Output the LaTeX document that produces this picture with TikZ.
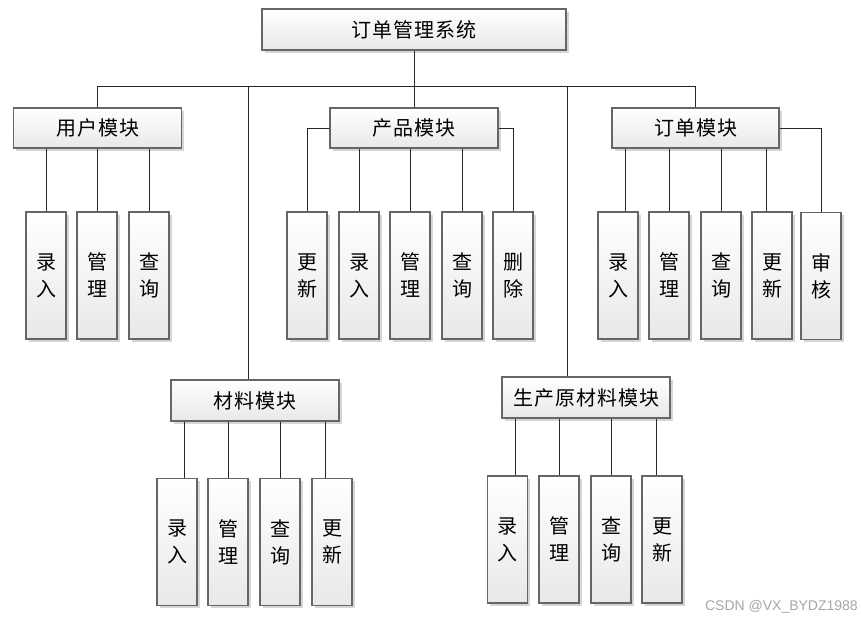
\documentclass[tikz,border=0pt]{standalone}
\usepackage{fontspec}
\newfontfamily\cjk[LetterSpace=5]{Noto Sans CJK SC}
\newfontfamily\wmfont{Liberation Sans}
\usetikzlibrary{shadows}
\begin{document}
\begin{tikzpicture}[x=1pt,y=-1pt,
  box/.style={draw=black!60, line width=1.1pt, top color=white, bottom color=black!9,
    drop shadow={shadow xshift=2.5pt, shadow yshift=-2.5pt, fill=black!20, opacity=0.8},
    font=\cjk\fontsize{20}{27}\selectfont, inner sep=0pt, align=center},
  modbox/.style={box, minimum width=168pt, minimum height=40pt},
  kid/.style={box, minimum width=40pt, minimum height=127pt},
  link/.style={draw=black!85, line width=0.9pt}]
\useasboundingbox (0,0) rectangle (861,622);

\node[box, minimum width=304pt, minimum height=41pt] (top) at (414,29.5) {订单管理系统};
\node[modbox] (user) at (97.5,128) {用户模块};
\node[modbox] (prod) at (414,128) {产品模块};
\node[modbox, minimum width=167pt] (order) at (695.5,128) {订单模块};
\node[modbox, minimum height=41pt] (mat) at (255,400.5) {材料模块};
\node[modbox, minimum height=41pt] (raw) at (586,397.5) {生产原材料模块};

\coordinate (bus) at (414,86);

% user children
\node[kid] (u1) at (46,275.5) {录\\入};
\node[kid] (u2) at (97,275.5) {管\\理};
\node[kid] (u3) at (149,275.5) {查\\询};
% product children
\node[kid] (p1) at (307,275.5) {更\\新};
\node[kid] (p2) at (359,275.5) {录\\入};
\node[kid] (p3) at (410,275.5) {管\\理};
\node[kid] (p4) at (462,275.5) {查\\询};
\node[kid] (p5) at (513,275.5) {删\\除};
% order children
\node[kid] (o1) at (618,275.5) {录\\入};
\node[kid] (o2) at (669,275.5) {管\\理};
\node[kid] (o3) at (721,275.5) {查\\询};
\node[kid] (o4) at (772,275.5) {更\\新};
\node[kid] (o5) at (821,276) {审\\核};
% material children
\node[kid] (m1) at (177,542) {录\\入};
\node[kid] (m2) at (228,542) {管\\理};
\node[kid] (m3) at (280,542) {查\\询};
\node[kid] (m4) at (332,542) {更\\新};
% raw material children
\node[kid] (r1) at (507.5,539.5) {录\\入};
\node[kid] (r2) at (559,539.5) {管\\理};
\node[kid] (r3) at (611,539.5) {查\\询};
\node[kid] (r4) at (662,539.5) {更\\新};

% top level connectors
\draw[link] (top.south) -- (prod.north);
\draw[link] (user.north) -- (user.north |- bus) -- (order.north |- bus) -- (order.north);
\draw[link] ([xshift=-7pt]mat.north |- bus) -- ([xshift=-7pt]mat.north);
\draw[link] ([xshift=-19pt]raw.north |- bus) -- ([xshift=-19pt]raw.north);

% user
\foreach \k in {u1,u2,u3} \draw[link] (\k.north |- user.south) -- (\k.north);
% product
\draw[link] (prod.west) -| (p1.north);
\draw[link] (prod.east) -| (p5.north);
\foreach \k in {p2,p3,p4} \draw[link] (\k.north |- prod.south) -- (\k.north);
% order
\draw[link] ([xshift=7pt]o1.north |- order.south) -- ([xshift=7pt]o1.north);
\draw[link] (o2.north |- order.south) -- (o2.north);
\draw[link] (o3.north |- order.south) -- (o3.north);
\draw[link] ([xshift=-6pt]o4.north |- order.south) -- ([xshift=-6pt]o4.north);
\draw[link] (order.east) -| (o5.north);
% material
\draw[link] ([xshift=7pt]m1.north |- mat.south) -- ([xshift=7pt]m1.north);
\draw[link] (m2.north |- mat.south) -- (m2.north);
\draw[link] (m3.north |- mat.south) -- (m3.north);
\draw[link] ([xshift=-7pt]m4.north |- mat.south) -- ([xshift=-7pt]m4.north);
% raw material
\draw[link] ([xshift=8pt]r1.north |- raw.south) -- ([xshift=8pt]r1.north);
\draw[link] (r2.north |- raw.south) -- (r2.north);
\draw[link] (r3.north |- raw.south) -- (r3.north);
\draw[link] ([xshift=-6pt]r4.north |- raw.south) -- ([xshift=-6pt]r4.north);

\node[anchor=east, text=black!35, font=\wmfont\fontsize{14}{16}\selectfont, inner sep=0pt] (wm) at (858,607) {CSDN @VX\_BYDZ1988};
\end{tikzpicture}
\end{document}
